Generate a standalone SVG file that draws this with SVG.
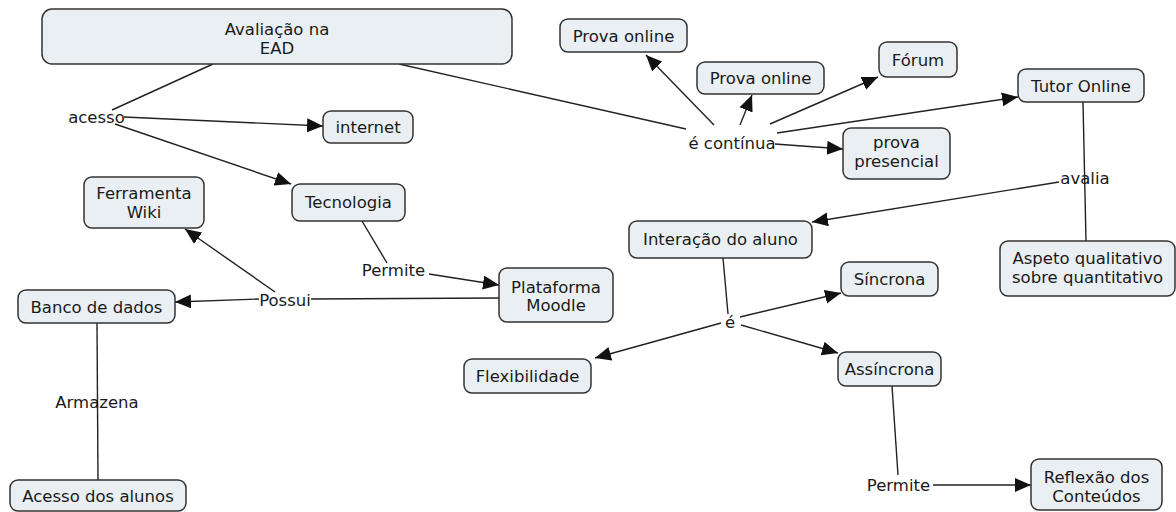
<svg xmlns="http://www.w3.org/2000/svg" width="1176" height="512" viewBox="0 0 1176 512">
<style>
.n rect{fill:#e9eff2;stroke:#333;stroke-width:1.5}
text{font-family:"DejaVu Sans","Verdana",sans-serif;font-size:16.5px;fill:#1a1a1a;text-anchor:middle}
.c line{stroke:#222;stroke-width:1.4;fill:none}
.a{marker-end:url(#ah)}
</style>
<defs>
<marker id="ah" markerUnits="userSpaceOnUse" markerWidth="17" markerHeight="15" refX="16" refY="7" orient="auto">
<path d="M0,0 L16,7 L0,14 Z" fill="#111"/>
</marker>
</defs>
<rect width="1176" height="512" fill="#fff"/>
<g class="c" id="connectors">
<line x1="213" y1="64" x2="112" y2="110"/>
<line class="a" x1="124" y1="117" x2="323" y2="126"/>
<line class="a" x1="115" y1="124" x2="291" y2="184"/>
<line x1="399" y1="64" x2="686" y2="129"/>
<line class="a" x1="714" y1="125" x2="646" y2="55"/>
<line class="a" x1="740" y1="125" x2="752" y2="95"/>
<line class="a" x1="770" y1="124" x2="878" y2="77"/>
<line class="a" x1="777" y1="133" x2="1018" y2="97"/>
<line class="a" x1="775" y1="144" x2="843" y2="149"/>
<line x1="1083" y1="102" x2="1086" y2="241"/>
<line class="a" x1="1059" y1="182" x2="812" y2="222"/>
<line x1="723" y1="258" x2="728" y2="314"/>
<line class="a" x1="740" y1="317" x2="841" y2="293"/>
<line class="a" x1="721" y1="323" x2="595" y2="358"/>
<line class="a" x1="741" y1="325" x2="838" y2="353"/>
<line x1="892" y1="386" x2="898" y2="475"/>
<line class="a" x1="933" y1="485" x2="1031" y2="485"/>
<line x1="362" y1="221" x2="387" y2="263"/>
<line class="a" x1="429" y1="274" x2="499" y2="285"/>
<line x1="499" y1="298" x2="311" y2="299"/>
<line class="a" x1="259" y1="299" x2="175" y2="302"/>
<line class="a" x1="275" y1="292" x2="185" y2="229"/>
<line x1="97" y1="323" x2="98" y2="480"/>
</g>
<g id="labels">
<text x="96.5" y="123">acesso</text>
<text x="732" y="149">é contínua</text>
<text x="1085" y="184">avalia</text>
<text x="393.5" y="276">Permite</text>
<text x="285" y="306">Possui</text>
<text x="97" y="408">Armazena</text>
<text x="730" y="328">é</text>
<text x="898.5" y="491">Permite</text>
</g>
<g class="n" id="avaliacao"><rect x="42" y="9" width="470" height="55" rx="10"/><text x="277" y="35">Avaliação na</text><text x="277" y="54">EAD</text></g>
<g class="n" id="internet"><rect x="323" y="111" width="90" height="32" rx="8"/><text x="368" y="133">internet</text></g>
<g class="n" id="tecnologia"><rect x="292" y="184" width="113" height="37" rx="8"/><text x="348.5" y="208">Tecnologia</text></g>
<g class="n" id="ferramenta"><rect x="84" y="177" width="120" height="51" rx="8"/><text x="144" y="199">Ferramenta</text><text x="144" y="218">Wiki</text></g>
<g class="n" id="plataforma"><rect x="499" y="268" width="114" height="54" rx="8"/><text x="556" y="293">Plataforma</text><text x="556" y="311">Moodle</text></g>
<g class="n" id="banco"><rect x="18" y="290" width="157" height="33" rx="8"/><text x="96.5" y="313">Banco de dados</text></g>
<g class="n" id="acesso-alunos"><rect x="10" y="480" width="176" height="31" rx="8"/><text x="98" y="502">Acesso dos alunos</text></g>
<g class="n" id="prova-online-1"><rect x="560" y="19" width="127" height="33" rx="8"/><text x="623.5" y="42">Prova online</text></g>
<g class="n" id="prova-online-2"><rect x="697" y="62" width="127" height="32" rx="8"/><text x="760.5" y="84">Prova online</text></g>
<g class="n" id="forum"><rect x="879" y="42" width="78" height="35" rx="8"/><text x="918" y="66">Fórum</text></g>
<g class="n" id="tutor"><rect x="1018" y="69" width="126" height="33" rx="8"/><text x="1081" y="92">Tutor Online</text></g>
<g class="n" id="prova-presencial"><rect x="843" y="128" width="107" height="51" rx="8"/><text x="896.5" y="148">prova</text><text x="896.5" y="167">presencial</text></g>
<g class="n" id="interacao"><rect x="629" y="221" width="183" height="37" rx="8"/><text x="720.5" y="245">Interação do aluno</text></g>
<g class="n" id="aspeto"><rect x="1000" y="241" width="175" height="55" rx="8"/><text x="1087.5" y="264">Aspeto qualitativo</text><text x="1087.5" y="283">sobre quantitativo</text></g>
<g class="n" id="sincrona"><rect x="841" y="262" width="97" height="34" rx="8"/><text x="889.5" y="285">Síncrona</text></g>
<g class="n" id="flexibilidade"><rect x="464" y="359" width="127" height="34" rx="8"/><text x="527.5" y="382">Flexibilidade</text></g>
<g class="n" id="assincrona"><rect x="838" y="352" width="103" height="34" rx="8"/><text x="889.5" y="375">Assíncrona</text></g>
<g class="n" id="reflexao"><rect x="1031" y="459" width="131" height="51" rx="8"/><text x="1096.5" y="483">Reflexão dos</text><text x="1096.5" y="502">Conteúdos</text></g>
</svg>
